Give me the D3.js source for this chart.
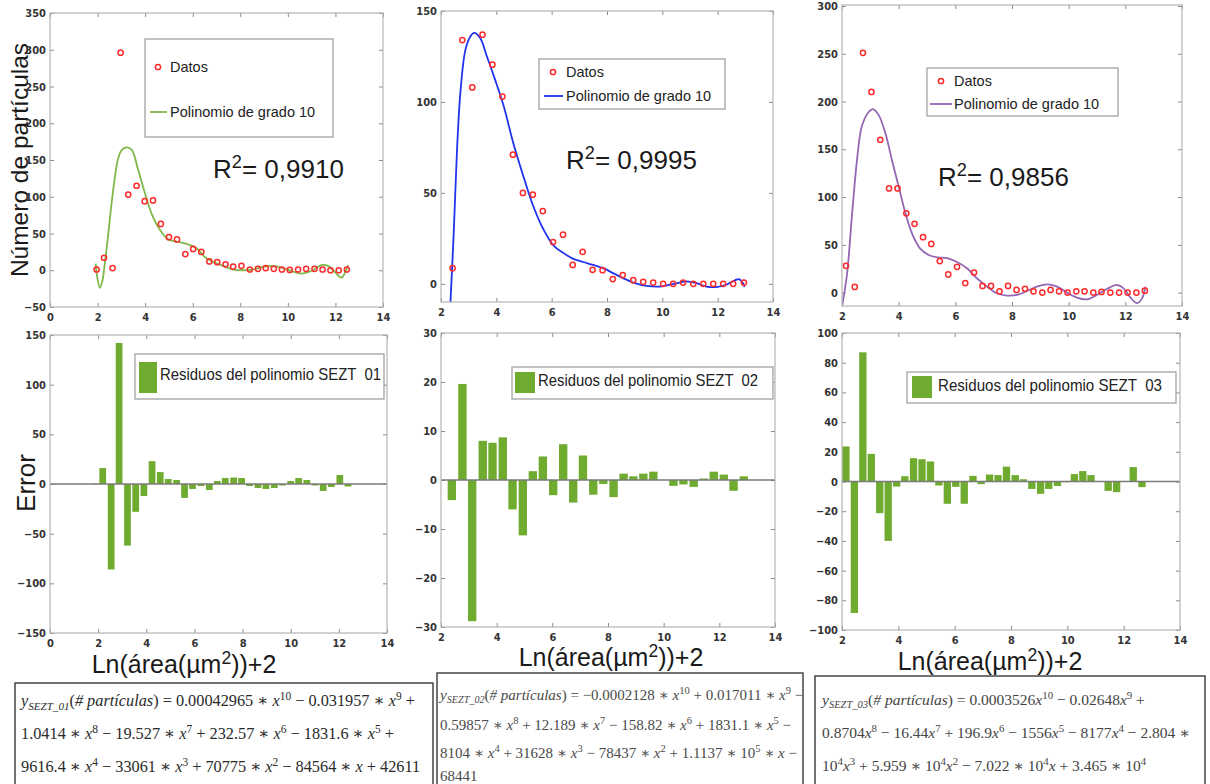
<!DOCTYPE html>
<html>
<head>
<meta charset="utf-8">
<script src="https://cdn.jsdelivr.net/npm/d3@7"></script>
<style>
body { margin: 0; background: #fff; }
svg text { font-family: "Liberation Sans", Arial, sans-serif; white-space: pre; }
.tick text { font-family: "Liberation Sans Narrow", "DejaVu Sans Condensed", sans-serif; font-weight: bold; font-size: 11px; fill: #333; }
.formula text { font-family: "Liberation Serif", "DejaVu Serif", serif; }
</style>
</head>
<body>
<svg id="fig" width="1210" height="784"></svg>
<script>
// ---- datos SEZT 01
var x01 = [1.96,2.27,2.63,2.97,3.29,3.64,3.98,4.33,4.66,5.0,5.34,5.69,6.02,6.36,6.7,7.03,7.38,7.7,8.05,8.4,8.74,9.07,9.41,9.75,10.08,10.43,10.77,11.12,11.46,11.79,12.14,12.48];
var y01 = [1,17,3,296,103,115,94,95,63,45,42,22,29,25,12,11,8,5,6,1,2,3,2,1,0.5,1,2,2,1,0,0,1];
var fitX01 = [1.92,2.0,2.1,2.2,2.3,2.42,2.55,2.7,2.85,3.0,3.19,3.43,3.71,3.99,4.27,4.62,4.97,5.32,5.74,6.16,6.51,6.86,7.28,7.7,8.12,8.54,8.96,9.38,9.8,10.22,10.57,10.99,11.41,11.69,11.97,12.25,12.53];
var fitY01 = [9,-12,-24,-15,8,40,80,120,150,163,167,164,136,105,77,55,42,39,36,30,18,11,6,1,0,1,4.5,6,3,-2,-4.5,-1,7,6,-2,-10,7];
var resX01 = [1.87,2.19,2.54,2.87,3.22,3.56,3.9,4.24,4.58,4.91,5.26,5.59,5.92,6.27,6.62,6.95,7.28,7.63,7.96,8.29,8.64,8.97,9.32,9.65,10.0,10.33,10.67,11.01,11.35,11.69,12.04,12.38];
var res01 = [-0.5,16,-86,142,-62,-28,-12,23,12,5,4,-14,-5,-2,-6,3,6,6.5,6,-2,-4,-5,-4,-1.5,3,6,4,-1.5,-7,-3,9,-2.5];

// ---- datos SEZT 02
var x02 = [2.42,2.77,3.13,3.5,3.86,4.22,4.6,4.96,5.32,5.68,6.05,6.41,6.76,7.12,7.48,7.84,8.21,8.57,8.95,9.31,9.67,10.03,10.39,10.75,11.12,11.48,11.84,12.2,12.56,12.95];
var y02 = [8.6,134,108,137,120.5,103,71,50,49,40,23,27,10.4,17.6,7.7,7.5,2.6,4.8,2,1.1,0.7,0,0,0.7,0,0,0,0,0,0.7];
var fitX02 = [2.34,2.46,2.58,2.7,2.88,3.06,3.2,3.42,3.66,3.96,4.26,4.62,4.98,5.34,5.7,6.07,6.42,6.78,7.14,7.5,7.86,8.22,8.58,8.95,9.43,9.91,10.27,10.63,10.87,11.23,11.59,11.95,12.31,12.61,12.77,12.91,12.97];
var fitY02 = [-10.6,28,74,105,128.5,136,138,135,125,112,98,77,59,42.5,30,21,17,13.7,12,10.4,8.6,5.9,3.1,0.7,-1.1,-1.5,-0.5,0.7,1.3,0.4,-1.5,-1.8,-0.5,1.8,2.6,0.4,-1.8];
var resX02 = [2.39,2.77,3.12,3.5,3.85,4.22,4.57,4.94,5.3,5.66,6.03,6.39,6.75,7.1,7.47,7.83,8.2,8.56,8.91,9.27,9.63,10.0,10.35,10.71,11.08,11.44,11.8,12.16,12.51,12.88];
var res02 = [-4.1,19.6,-28.8,8,7.6,8.7,-6,-11.3,1.8,4.8,-3.1,7.3,-4.6,5,-3,-0.8,-3.5,1.3,0.75,1.3,1.7,0,-1.2,-0.9,-1.4,0.3,1.7,1.1,-2.2,0.75];

// ---- datos SEZT 03
var x03 = [2.14,2.45,2.74,3.04,3.35,3.66,3.96,4.27,4.56,4.86,5.15,5.45,5.75,6.06,6.35,6.66,6.96,7.26,7.56,7.86,8.16,8.46,8.76,9.07,9.36,9.66,9.96,10.27,10.56,10.87,11.16,11.47,11.78,12.08,12.39,12.69];
var y03 = [28,6,251,210,160,109,109,83,72,58,51,33,19,27,10,21,7,7,1.4,7,2.8,4,1.4,0,2.8,1.4,0,1.4,1.4,0,0.7,0,0,0,0,2];
var fitX03 = [2.0,2.18,2.35,2.53,2.7,2.94,3.09,3.29,3.53,3.76,4.0,4.24,4.47,4.76,5.06,5.35,5.71,6.06,6.41,6.76,7.12,7.47,7.82,8.18,8.53,8.88,9.24,9.59,9.94,10.29,10.65,11.0,11.35,11.71,11.94,12.18,12.41,12.59,12.71];
var fitY03 = [-15,20,80,139,174,189,192,186,167,139,111,83,62,46,39.4,37,36,32,25.5,15,6.3,-0.7,-3.1,-2.4,1.7,6.3,8.7,6.3,0,-5.2,-7,-2.4,3.8,8,4.5,-5.2,-11,-6,6.3];
var resX03 = [2.14,2.44,2.74,3.04,3.34,3.64,3.94,4.23,4.54,4.84,5.14,5.44,5.74,6.04,6.34,6.65,6.94,7.24,7.54,7.84,8.15,8.44,8.74,9.05,9.34,9.65,9.94,10.25,10.55,10.84,11.15,11.45,11.75,12.05,12.34,12.65];
var res03 = [23.6,-88.5,87,18.6,-21.3,-40,-3.4,3.6,15.7,15,13.5,-2.7,-15,-3.6,-15,3.8,-1.8,4.7,4.3,10,4.3,1.5,-5,-8.3,-5,-3,-0.5,5,7,4.3,0,-6.3,-7.2,0,9.7,-3.8];

// ---- ticks y textos
var xTicks01 = [0,2,4,6,8,10,12,14];
var xTicks = [2,4,6,8,10,12,14];
var yTicksFit01 = [-50,0,50,100,150,200,250,300,350];
var yTicksFit02 = [0,50,100,150];
var yTicksFit03 = [0,50,100,150,200,250,300];
var yTicksRes01 = [-150,-100,-50,0,50,100,150];
var yTicksRes02 = [-30,-20,-10,0,10,20,30];
var yTicksRes03 = [-100,-80,-60,-40,-20,0,20,40,60,80,100];
var r2Labels = ["0,9910", "0,9995", "0,9856"];
var resLabels = ["Residuos del polinomio SEZT  01", "Residuos del polinomio SEZT  02", "Residuos del polinomio SEZT  03"];

var formula01 = [
  "|y|_{SEZT_01}(|# partículas|) = 0.00042965 ∗ |x|^{10} − 0.031957 ∗ |x|^{9} +",
  "1.0414 ∗ |x|^{8} − 19.527 ∗ |x|^{7} + 232.57 ∗ |x|^{6} − 1831.6 ∗ |x|^{5} +",
  "9616.4 ∗ |x|^{4} − 33061 ∗ |x|^{3} + 70775 ∗ |x|^{2} − 84564 ∗ |x| + 42611"];
var formula02 = [
  "|y|_{SEZT_02}(|# partículas|) = −0.0002128 ∗ |x|^{10} + 0.017011 ∗ |x|^{9} −",
  "0.59857 ∗ |x|^{8} + 12.189 ∗ |x|^{7} − 158.82 ∗ |x|^{6} + 1831.1 ∗ |x|^{5} −",
  "8104 ∗ |x|^{4} + 31628 ∗ |x|^{3} − 78437 ∗ |x|^{2} + 1.1137 ∗ 10^{5} ∗ |x| −",
  "68441"];
var formula03 = [
  "|y|_{SEZT_03}(|# partículas|) = 0.0003526|x|^{10} − 0.02648|x|^{9} +",
  "0.8704|x|^{8} − 16.44|x|^{7} + 196.9|x|^{6} − 1556|x|^{5} − 8177|x|^{4} − 2.804 ∗",
  "10^{4}|x|^{3} + 5.959 ∗ 10^{4}|x|^{2} − 7.022 ∗ 10^{4}|x| + 3.465 ∗ 10^{4}"];

var zip = function (a, b) { return a.map(function (v, i) { return [v, b[i]]; }); };

var svg = d3.select("#fig");

// etiquetas de ejes primero, para que los números de los ticks queden encima
svg.append("text").attr("transform", "translate(28,160) rotate(-90)").attr("text-anchor", "middle")
  .style("font-size", "24.5px").attr("fill", "#1a1a1a").text("Número de partículas");
svg.append("text").attr("transform", "translate(35,483) rotate(-90)").attr("text-anchor", "middle")
  .style("font-size", "26px").attr("fill", "#1a1a1a").text("Error");

// texto con |cursiva|, ^{super} y _{sub}
function richText(g, str, x, y, size, attrs) {
  var t = g.append("text").attr("x", x).attr("y", y).style("font-size", size + "px");
  for (var k in (attrs || {})) t.attr(k, attrs[k]);
  var parts = str.split(/(\|[^|]*\||\^\{[^}]*\}|_\{[^}]*\})/).filter(function (s) { return s.length; });
  var off = 0;
  parts.forEach(function (p) {
    var txt = p, target = 0, fs = size, it = false;
    if (p[0] == "|") { txt = p.slice(1, -1); it = true; }
    else if (p.indexOf("^{") == 0) { txt = p.slice(2, -1); target = -0.38 * size; fs = 0.7 * size; }
    else if (p.indexOf("_{") == 0) { txt = p.slice(2, -1); target = 0.22 * size; fs = 0.68 * size; it = true; }
    t.append("tspan").attr("dy", target - off).style("font-size", fs + "px")
      .style("font-style", it ? "italic" : "normal").text(txt);
    off = target;
  });
  return t;
}

// marco estilo matlab, ticks hacia dentro en los 4 lados
function frame(p) {
  var g = svg.append("g").attr("transform", "translate(" + p.left + "," + p.top + ")");
  var w = p.right - p.left, h = p.bottom - p.top;
  var xs = d3.scaleLinear().domain(p.xd).range([0, w]);
  var ys = d3.scaleLinear().domain(p.yd).range([h, 0]);
  g.append("rect").attr("width", w).attr("height", h).attr("fill", "#fff");

  var ax = [
    g.append("g").attr("transform", "translate(0," + h + ")").call(d3.axisBottom(xs).tickValues(p.xt).tickSizeInner(-4).tickSizeOuter(0).tickPadding(6)),
    g.append("g").call(d3.axisTop(xs).tickValues(p.xt).tickSizeInner(-4).tickSizeOuter(0).tickFormat("")),
    g.append("g").call(d3.axisLeft(ys).tickValues(p.yt).tickSizeInner(-4).tickSizeOuter(0).tickPadding(4)),
    g.append("g").attr("transform", "translate(" + w + ",0)").call(d3.axisRight(ys).tickValues(p.yt).tickSizeInner(-4).tickSizeOuter(0).tickFormat(""))
  ];
  ax.forEach(function (a) {
    a.select(".domain").remove();
    a.selectAll("line").attr("stroke", "#8a8a8a");
  });
  g.append("clipPath").attr("id", p.id).append("rect").attr("width", w).attr("height", h);
  var plot = g.append("g").attr("clip-path", "url(#" + p.id + ")");
  return { g: g, plot: plot, xs: xs, ys: ys, w: w, h: h };
}

function fitPanel(p) {
  var f = frame(p);
  var line = d3.line().x(function (d) { return f.xs(d[0]); }).y(function (d) { return f.ys(d[1]); })
    .curve(d3.curveCatmullRom.alpha(0.5));
  f.plot.append("path").datum(zip(p.fx, p.fy)).attr("d", line)
    .attr("fill", "none").attr("stroke", p.color).attr("stroke-width", 1.8);
  f.plot.selectAll("circle.dat").data(zip(p.x, p.y)).enter().append("circle")
    .attr("cx", function (d) { return f.xs(d[0]); }).attr("cy", function (d) { return f.ys(d[1]); })
    .attr("r", 2.6).attr("fill", "none").attr("stroke", "#ff2b2b").attr("stroke-width", 1.5);
  f.g.append("rect").attr("x", 0).attr("y", 0).attr("width", f.w).attr("height", f.h)
    .attr("fill", "none").attr("stroke", "#b4b4b4").attr("stroke-width", 1.2);

  // leyenda
  var L = p.leg, lg = svg.append("g").attr("transform", "translate(" + L.x + "," + L.y + ")");
  lg.append("rect").attr("width", L.w).attr("height", L.h).attr("fill", "#fff").attr("stroke", "#9a9a9a").attr("stroke-width", 1.2);
  lg.append("circle").attr("cx", L.mx).attr("cy", L.r1).attr("r", 2.6).attr("fill", "none").attr("stroke", "#ff2b2b").attr("stroke-width", 1.5);
  lg.append("text").attr("x", L.tx).attr("y", L.r1 + 5).style("font-size", "14.5px").attr("fill", "#222").text("Datos");
  lg.append("line").attr("x1", L.lx1).attr("x2", L.lx2).attr("y1", L.r2).attr("y2", L.r2).attr("stroke", p.color).attr("stroke-width", 1.8);
  lg.append("text").attr("x", L.tx).attr("y", L.r2 + 5).style("font-size", "14.5px").attr("fill", "#222").text("Polinomio de grado 10");

  richText(svg, "R^{2}= " + p.r2, p.r2x, p.r2y, 26, { fill: "#1a1a1a" });
}

function resPanel(p) {
  var f = frame(p);
  var bw = f.xs(p.xd[0] + p.bw) - f.xs(p.xd[0]);
  f.plot.selectAll("rect.bar").data(zip(p.rx, p.ry)).enter().append("rect")
    .attr("x", function (d) { return f.xs(d[0]) - bw / 2; })
    .attr("y", function (d) { return f.ys(Math.max(0, d[1])); })
    .attr("width", bw)
    .attr("height", function (d) { return Math.abs(f.ys(d[1]) - f.ys(0)); })
    .attr("fill", "#6fab2f");
  f.plot.append("line").attr("x1", 0).attr("x2", f.w).attr("y1", f.ys(0)).attr("y2", f.ys(0))
    .attr("stroke", "#7a7a7a").attr("stroke-width", 1.5);
  f.g.append("rect").attr("width", f.w).attr("height", f.h)
    .attr("fill", "none").attr("stroke", "#b4b4b4").attr("stroke-width", 1.2);

  var L = p.leg, lg = svg.append("g").attr("transform", "translate(" + L.x + "," + L.y + ")");
  lg.append("rect").attr("width", L.w).attr("height", L.h).attr("fill", "#fff").attr("stroke", "#9a9a9a").attr("stroke-width", 1.2);
  lg.append("rect").attr("x", L.px).attr("y", L.py).attr("width", L.pw).attr("height", L.ph).attr("fill", "#6fab2f");
  lg.append("text").attr("x", L.tx).attr("y", L.ty).attr("textLength", L.tl).attr("lengthAdjust", "spacingAndGlyphs")
    .style("font-size", "17px").attr("fill", "#222").text(p.label);

  richText(svg, "Ln(área(µm^{2}))+2", p.xlx, p.xly, 25, { fill: "#1a1a1a", "text-anchor": "middle" });
}

// ---- paneles superiores
fitPanel({ id: "c1", left: 50, top: 13, right: 383, bottom: 307, xd: [0, 14], yd: [-50, 350], xt: xTicks01, yt: yTicksFit01,
  x: x01, y: y01, fx: fitX01, fy: fitY01, color: "#7fb84a", r2: r2Labels[0], r2x: 213, r2y: 178,
  leg: { x: 145, y: 39, w: 188, h: 98, mx: 13, r1: 28, tx: 25, lx1: 5, lx2: 22, r2: 73 } });
fitPanel({ id: "c2", left: 441, top: 11, right: 773, bottom: 302, xd: [2, 14], yd: [-10, 150], xt: xTicks, yt: yTicksFit02,
  x: x02, y: y02, fx: fitX02, fy: fitY02, color: "#2233ee", r2: r2Labels[1], r2x: 566, r2y: 169,
  leg: { x: 539, y: 59, w: 186, h: 50, mx: 14, r1: 13, tx: 27, lx1: 5, lx2: 24, r2: 37 } });
fitPanel({ id: "c3", left: 842, top: 5, right: 1182, bottom: 306, xd: [2, 14], yd: [-14, 301], xt: xTicks, yt: yTicksFit03,
  x: x03, y: y03, fx: fitX03, fy: fitY03, color: "#9466b4", r2: r2Labels[2], r2x: 938, r2y: 186,
  leg: { x: 927, y: 68, w: 191, h: 48, mx: 14, r1: 13, tx: 27, lx1: 3, lx2: 25, r2: 36 } });

// ---- residuos
resPanel({ id: "r1", left: 50, top: 335, right: 387, bottom: 633, xd: [0, 14], yd: [-150, 150], xt: xTicks01, yt: yTicksRes01,
  rx: resX01, ry: res01, bw: 0.28, label: resLabels[0], xlx: 184, xly: 673,
  leg: { x: 135, y: 354, w: 249, h: 45, px: 4, py: 8, pw: 18, ph: 31, tx: 25, ty: 26, tl: 221 } });
resPanel({ id: "r2", left: 441, top: 333, right: 775, bottom: 627, xd: [2, 14], yd: [-30, 30], xt: xTicks, yt: yTicksRes02,
  rx: resX02, ry: res02, bw: 0.3, label: resLabels[1], xlx: 611, xly: 666,
  leg: { x: 512, y: 367, w: 261, h: 32, px: 3, py: 5, pw: 20, ph: 21, tx: 26, ty: 19, tl: 220 } });
resPanel({ id: "r3", left: 842, top: 333, right: 1180, bottom: 630, xd: [2, 14], yd: [-100, 100], xt: xTicks, yt: yTicksRes03,
  rx: resX03, ry: res03, bw: 0.26, label: resLabels[2], xlx: 990, xly: 670,
  leg: { x: 907, y: 372, w: 269, h: 31, px: 5, py: 4, pw: 20, ph: 22, tx: 31, ty: 19, tl: 224 } });

// ---- cajas de ecuaciones
function formulaBox(lines, x, y, w, h, tx, rows, size, color) {
  var g = svg.append("g").attr("class", "formula");
  g.append("rect").attr("x", x).attr("y", y).attr("width", w).attr("height", h)
    .attr("fill", "#fff").attr("stroke", "#444").attr("stroke-width", 1.5);
  lines.forEach(function (s, i) { richText(g, s, tx, rows[i], size, { fill: color }); });
}
formulaBox(formula01, 15, 683, 418, 110, 21, [706, 739, 772], 16.3, "#2a2a2a");
formulaBox(formula02, 437, 673, 366, 120, 440, [700, 730, 758, 781], 15, "#4a4a4a");
formulaBox(formula03, 815, 676, 390, 120, 822, [705, 738, 771], 15.5, "#444");
</script>
</body>
</html>
